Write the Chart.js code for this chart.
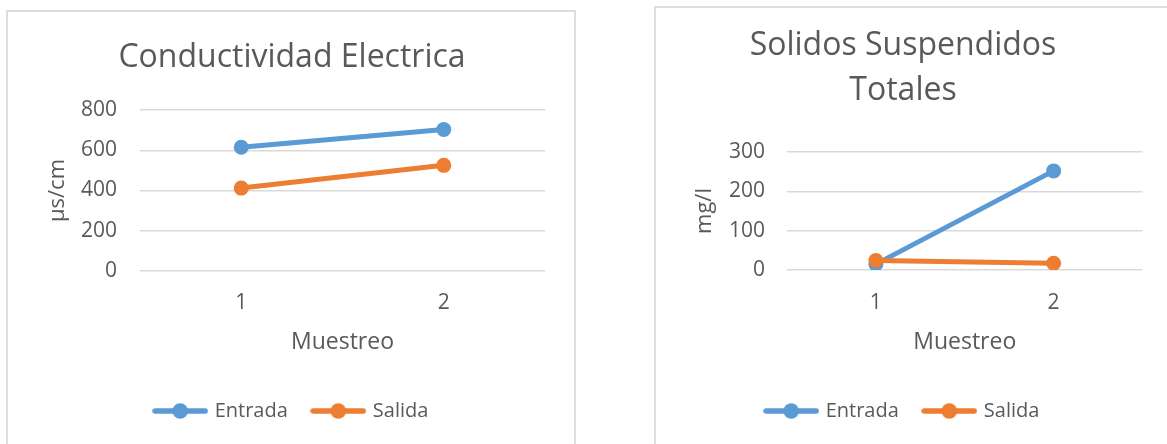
<!DOCTYPE html>
<html>
<head>
<meta charset="utf-8">
<title>Conductividad Electrica y Solidos Suspendidos Totales</title>
<script src="https://cdn.jsdelivr.net/npm/chart.js@4.4.1/dist/chart.umd.min.js"></script>
<style>
  html, body { margin: 0; padding: 0; background: #fff; width: 1167px; height: 444px; overflow: hidden; position: relative; }
  .frame { position: absolute; border: 2px solid #dedede; box-sizing: border-box; }
  #frameA { left: 6px; top: 10px; width: 570px; height: 450px; }
  #frameB { left: 654px; top: 6px; width: 530px; height: 460px; }
  canvas { position: absolute; }
  #chartA { left: 8px; top: 11px; }
  #chartB { left: 656px; top: 8px; }
</style>
</head>
<body>
<div class="frame" id="frameA"></div>
<div class="frame" id="frameB"></div>
<canvas id="chartA" width="568" height="433"></canvas>
<canvas id="chartB" width="494" height="436"></canvas>
<script>
// Sampling rounds and series
const muestreos = ['1', '2'];
const seriesNames = ['Entrada', 'Salida'];
const seriesColors = ['#5B9BD5', '#ED7D31'];

// Conductividad electrica (µs/cm)
const conductividadEntrada = [615, 703];
const conductividadSalida = [412, 525];
const conductividadTicks = [0, 200, 400, 600, 800];

// Solidos suspendidos totales (mg/l)
const solidosEntrada = [15, 252];
const solidosSalida = [24, 17];
const solidosTicks = [0, 100, 200, 300];

const TEXT = '#595959';
const GRID = '#d9d9d9';

Chart.defaults.font.family = '"Open Sans", "Noto Sans", sans-serif';
Chart.defaults.color = TEXT;

// Legend swatch: a short line with a round marker in the middle
function legendSwatch(color) {
  const c = document.createElement('canvas');
  c.width = 56; c.height = 18;
  const g = c.getContext('2d');
  g.strokeStyle = color;
  g.lineWidth = 5.5;
  g.lineCap = 'round';
  g.beginPath(); g.moveTo(3, 9); g.lineTo(53, 9); g.stroke();
  g.fillStyle = color;
  g.beginPath(); g.arc(28, 9, 7.8, 0, Math.PI * 2); g.fill();
  return c;
}
const swatches = seriesColors.map(legendSwatch);

function lineDataset(label, data, color, order) {
  return {
    label, data, order,
    borderColor: color, backgroundColor: color,
    borderWidth: 5, borderCapStyle: 'round', tension: 0,
    pointRadius: 7.5, pointHoverRadius: 7.5, pointBorderWidth: 0,
    pointBackgroundColor: color
  };
}

function buildChart(el, o) {
  const ticks = o.ticks;
  return new Chart(el, {
    type: 'line',
    data: {
      labels: muestreos,
      datasets: [
        lineDataset(seriesNames[0], o.entrada, seriesColors[0], 2),
        lineDataset(seriesNames[1], o.salida, seriesColors[1], 1)
      ]
    },
    options: {
      responsive: false,
      animation: false,
      devicePixelRatio: 1,
      events: [],
      layout: { padding: { left: 0, right: 0, top: 0, bottom: 13 } },
      plugins: {
        tooltip: { enabled: false },
        title: {
          display: true,
          text: o.title,
          color: TEXT,
          font: { size: 32, weight: 'normal', lineHeight: 1.4 },
          padding: o.titlePadding
        },
        legend: {
          position: 'bottom',
          labels: {
            usePointStyle: true,
            pointStyleWidth: 49,
            boxHeight: 20,
            padding: 26,
            color: TEXT,
            font: { size: 20 },
            generateLabels(chart) {
              const items = Chart.defaults.plugins.legend.labels.generateLabels(chart);
              items.sort((a, b) => a.datasetIndex - b.datasetIndex);
              items.forEach(it => { it.pointStyle = swatches[it.datasetIndex]; });
              return items;
            }
          }
        }
      },
      scales: {
        x: {
          type: 'category',
          offset: true,
          grid: { display: false, drawTicks: false },
          border: { display: false },
          ticks: { padding: o.xTickPad, font: { size: 21 }, color: TEXT },
          title: { display: true, text: 'Muestreo', color: TEXT, font: { size: 23 }, padding: { top: 0, bottom: 19.2 } },
          afterFit(scale) { scale.height = o.xHeight; }
        },
        y: {
          min: ticks[0],
          max: ticks[ticks.length - 1],
          ticks: { stepSize: ticks[1] - ticks[0], padding: o.yTickPad, font: { size: 21 }, color: TEXT },
          grid: { color: GRID, lineWidth: 1.5, drawTicks: false },
          border: { display: false },
          title: { display: true, text: o.yTitle, color: TEXT, font: { size: 22 }, padding: { top: o.yTitlePad, bottom: 0 } },
          afterFit(scale) { scale.width = o.yWidth; }
        },
        spacer: {
          type: 'linear',
          position: 'right',
          display: true,
          grid: { display: false, drawTicks: false },
          border: { display: false },
          ticks: { display: false },
          afterFit(scale) { scale.width = o.rightWidth; }
        }
      }
    }
  });
}

function draw() {
  buildChart(document.getElementById('chartA'), {
    title: 'Conductividad Electrica',
    titlePadding: { top: 24.6, bottom: 29.6 },
    entrada: conductividadEntrada,
    salida: conductividadSalida,
    ticks: conductividadTicks,
    yTitle: 'µs/cm',
    yWidth: 132, yTickPad: 23, yTitlePad: 36.8,
    rightWidth: 31,
    xHeight: 104, xTickPad: 19
  });
  buildChart(document.getElementById('chartB'), {
    title: ['Solidos Suspendidos', 'Totales'],
    titlePadding: { top: 15.6, bottom: 38.8 },
    entrada: solidosEntrada,
    salida: solidosSalida,
    ticks: solidosTicks,
    yTitle: 'mg/l',
    yWidth: 131, yTickPad: 22, yTitlePad: 35.8,
    rightWidth: 5,
    xHeight: 105, xTickPad: 20
  });
}

if (document.fonts && document.fonts.load) {
  Promise.all([
    document.fonts.load('20px "Open Sans"'),
    document.fonts.load('32px "Open Sans"')
  ]).then(draw, draw);
} else {
  draw();
}
</script>
</body>
</html>
